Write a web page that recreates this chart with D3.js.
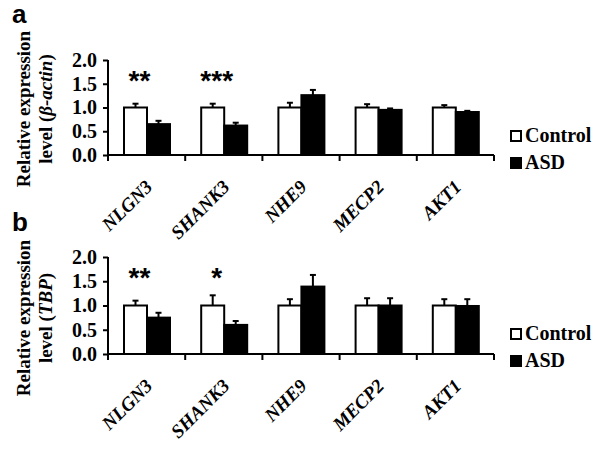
<!DOCTYPE html>
<html>
<head>
<meta charset="utf-8">
<script src="https://cdn.jsdelivr.net/npm/d3@7"></script>
<style>
  body { margin: 0; background: #fff; }
  svg { display: block; }
  svg text { font-family: "Liberation Serif", "Times New Roman", serif; font-weight: bold; fill: #000; }
  svg text.sans { font-family: "Liberation Sans", Arial, sans-serif; }
  svg text.ital { font-style: italic; }
</style>
</head>
<body>
<svg id="chart" width="600" height="450"></svg>
<script>
// ---- data ----
const genes = ["NLGN3", "SHANK3", "NHE9", "MECP2", "AKT1"];
const groups = ["Control", "ASD"];
const yTicks = [0, 0.5, 1.0, 1.5, 2.0];

// Panel a (normalised to beta-actin)
const aControl = [1.0, 1.0, 1.0, 1.0, 1.0];
const aControlErr = [0.08, 0.08, 0.10, 0.07, 0.05];
const aASD = [0.65, 0.62, 1.26, 0.95, 0.905];
const aASDErr = [0.07, 0.06, 0.11, 0.03, 0.025];
const aStars = ["**", "***", "", "", ""];

// Panel b (normalised to TBP)
const bControl = [1.0, 1.0, 1.0, 1.0, 1.0];
const bControlErr = [0.10, 0.21, 0.13, 0.15, 0.13];
const bASD = [0.75, 0.60, 1.39, 1.0, 0.99];
const bASDErr = [0.10, 0.08, 0.24, 0.15, 0.14];
const bStars = ["**", "*", "", "", ""];

const svg = d3.select("#chart");

function drawPanel(cfg) {
  const { top, bottom, control, controlErr, asd, asdErr, stars, letter, letterY, refLabel, titleCenter, legendY } = cfg;
  const left = 108, right = 494;
  const x = d3.scaleBand().domain(genes).range([left, right]).padding(0);
  const x1 = d3.scaleBand().domain(groups).range([16, 62]).padding(0);
  const y = d3.scaleLinear().domain([0, 2]).range([bottom, top]);
  const g = svg.append("g");

  const rows = genes.map((gene, i) => ({ gene, i,
    vals: [
      { grp: "Control", v: control[i], e: controlErr[i] },
      { grp: "ASD", v: asd[i], e: asdErr[i] }
    ]}));

  // error bars (upper only)
  rows.forEach(r => r.vals.forEach(d => {
    const cx = x(r.gene) + x1(d.grp) + x1.bandwidth() / 2;
    g.append("line").attr("x1", cx).attr("x2", cx)
      .attr("y1", y(d.v)).attr("y2", y(d.v + d.e))
      .attr("stroke", "#000").attr("stroke-width", 2);
    g.append("line").attr("x1", cx - 3).attr("x2", cx + 3)
      .attr("y1", y(d.v + d.e)).attr("y2", y(d.v + d.e))
      .attr("stroke", "#000").attr("stroke-width", 2);
  }));

  // bars
  rows.forEach(r => {
    g.selectAll(null).data(r.vals).enter().append("rect")
      .attr("x", d => x(r.gene) + x1(d.grp))
      .attr("width", x1.bandwidth())
      .attr("y", d => y(d.v))
      .attr("height", d => y(0) - y(d.v))
      .attr("fill", d => d.grp === "Control" ? "#fff" : "#000")
      .attr("stroke", "#000").attr("stroke-width", 2);
  });

  // y axis
  const yAxis = d3.axisLeft(y).tickValues(yTicks).tickFormat(d3.format(".1f"))
    .tickSizeInner(5).tickSizeOuter(0).tickPadding(6);
  const ya = g.append("g").attr("transform", `translate(${left},0)`).call(yAxis);
  ya.attr("font-family", null).attr("font-size", null);
  ya.select(".domain").attr("stroke-width", 2).attr("d", `M0,${top}V${bottom + 6}`);
  ya.selectAll(".tick line").attr("stroke-width", 2);
  ya.selectAll("text").style("font-size", "20px");

  // x axis
  g.append("line").attr("x1", left - 1).attr("x2", right).attr("y1", bottom).attr("y2", bottom)
    .attr("stroke", "#000").attr("stroke-width", 2);
  genes.forEach(gene => {
    const bx = x(gene) + x.bandwidth();
    g.append("line").attr("x1", bx).attr("x2", bx).attr("y1", bottom).attr("y2", bottom + 6)
      .attr("stroke", "#000").attr("stroke-width", 2);
  });
  genes.forEach(gene => {
    const cx = x(gene) + x.bandwidth() / 2;
    g.append("text").attr("class", "ital").text(gene)
      .attr("transform", `translate(${cx + 7},${bottom + 33}) rotate(-45)`)
      .attr("text-anchor", "end").style("font-size", "19px");
  });

  // significance stars
  genes.forEach((gene, i) => {
    if (!stars[i]) return;
    const cx = x(gene) + x1("Control") + x1.bandwidth() / 2 + 4;
    g.append("text").attr("class", "sans").text(stars[i])
      .attr("x", cx).attr("y", top + 30)
      .attr("text-anchor", "middle").style("font-size", "28px");
  });

  // y title (two lines, rotated)
  g.append("text")
    .attr("transform", `translate(30,${titleCenter}) rotate(-90)`)
    .attr("text-anchor", "middle").style("font-size", "19px")
    .text("Relative expression");
  const t2 = g.append("text")
    .attr("transform", `translate(52,${titleCenter}) rotate(-90)`)
    .attr("text-anchor", "middle").style("font-size", "19px");
  t2.append("tspan").text("level (");
  t2.append("tspan").style("font-style", "italic").text(refLabel);
  t2.append("tspan").text(")");

  // panel letter
  g.append("text").attr("class", "sans").text(letter).attr("x", 12).attr("y", letterY).style("font-size", "26px");

  // legend
  groups.forEach((grp, i) => {
    const ly = legendY + i * 27;
    g.append("rect").attr("x", 511).attr("y", ly - 11).attr("width", 10).attr("height", 10)
      .attr("fill", grp === "Control" ? "#fff" : "#000").attr("stroke", "#000").attr("stroke-width", 2);
    g.append("text").text(grp).attr("x", 525).attr("y", ly).style("font-size", "20px");
  });
}

drawPanel({ top: 60, bottom: 155, control: aControl, controlErr: aControlErr, asd: aASD, asdErr: aASDErr,
  stars: aStars, letter: "a", letterY: 23, refLabel: "β-actin", titleCenter: 109, legendY: 142 });
drawPanel({ top: 257, bottom: 354, control: bControl, controlErr: bControlErr, asd: bASD, asdErr: bASDErr,
  stars: bStars, letter: "b", letterY: 231, refLabel: "TBP", titleCenter: 318, legendY: 340 });
</script>
</body>
</html>
